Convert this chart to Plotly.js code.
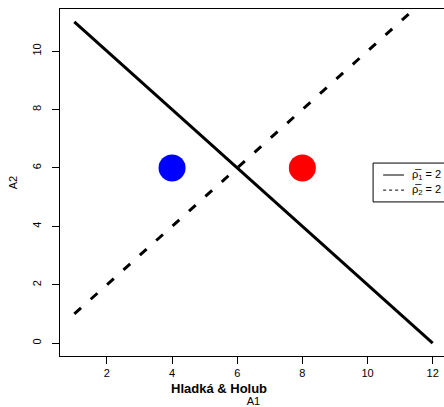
<!DOCTYPE html>
<html>
<head>
<meta charset="utf-8">
<script src="https://cdn.plot.ly/plotly-3.0.1.min.js"></script>
<style>
html,body{margin:0;padding:0;overflow:hidden;background:#fff;}
#chart{width:448px;height:407px;}
</style>
</head>
<body>
<div id="chart"></div>
<script>
// Data
var solidX = [1, 12];
var solidY = [11, 0];
var dashedX = [1, 12];
var dashedY = [1, 12];
var pointX = [4, 8];
var pointY = [6, 6];
var pointColors = ['#0000FF', '#FF0000'];
var xTicks = [2, 4, 6, 8, 10, 12];
var yTicks = [0, 2, 4, 6, 8, 10];
var legendLabels = ['\u03C1\u0305<sub>1</sub> = 2', '\u03C1\u0305<sub>2</sub> = 2'];
var subtitle = 'Hladká & Holub';

var font = 'Liberation Sans, Arial, Helvetica, sans-serif';

var traces = [
  {x: solidX, y: solidY, mode: 'lines', line: {color: '#000', width: 3}, hoverinfo: 'skip', showlegend: false},
  {x: dashedX, y: dashedY, mode: 'lines', line: {color: '#000', width: 3, dash: '9px,13px'}, hoverinfo: 'skip', showlegend: false},
  {x: pointX, y: pointY, mode: 'markers', marker: {color: pointColors, size: 27, line: {width: 0}}, hoverinfo: 'skip', showlegend: false}
];

var layout = {
  width: 448, height: 407,
  margin: {l: 60, r: 1, t: 9, b: 51},
  paper_bgcolor: '#fff', plot_bgcolor: '#fff',
  font: {family: font, size: 11, color: '#000'},
  showlegend: false,
  xaxis: {
    range: [0.56, 12.44], tickvals: xTicks, ticktext: xTicks.map(String),
    showgrid: false, zeroline: false, showline: true, linecolor: '#000', linewidth: 1, mirror: true,
    ticks: 'outside', ticklen: 7, tickcolor: '#000', tickwidth: 1,
    tickfont: {family: font, size: 11},
    title: {text: 'A1', font: {family: font, size: 11}, standoff: 25}
  },
  yaxis: {
    range: [-0.44, 11.44], tickvals: yTicks, ticktext: yTicks.map(String),
    showgrid: false, zeroline: false, showline: true, linecolor: '#000', linewidth: 1, mirror: true,
    ticks: 'outside', ticklen: 7, tickcolor: '#000', tickwidth: 1, tickangle: -90,
    ticklabelstandoff: 7,
    tickfont: {family: font, size: 11},
    title: {text: 'A2', font: {family: font, size: 11}, standoff: 10}
  },
  shapes: [
    {type: 'rect', xref: 'paper', yref: 'paper', x0: 0.809, x1: 1.05, y0: 0.444, y1: 0.556,
     line: {color: '#000', width: 1}, fillcolor: '#fff', layer: 'above'},
    {type: 'line', xref: 'paper', yref: 'paper', x0: 0.835, x1: 0.889, y0: 0.5216, y1: 0.5216,
     line: {color: '#000', width: 1}},
    {type: 'line', xref: 'paper', yref: 'paper', x0: 0.835, x1: 0.889, y0: 0.478, y1: 0.478,
     line: {color: '#000', width: 1, dash: '3px,3px'}}
  ],
  annotations: [
    {xref: 'paper', yref: 'paper', x: 0.905, y: 0.5216, xanchor: 'left', yanchor: 'middle',
     text: legendLabels[0], showarrow: false, font: {family: font, size: 11}},
    {xref: 'paper', yref: 'paper', x: 0.905, y: 0.478, xanchor: 'left', yanchor: 'middle',
     text: legendLabels[1], showarrow: false, font: {family: font, size: 11}},
    {xref: 'paper', yref: 'paper', x: 0.411, y: -0.095, xanchor: 'center', yanchor: 'middle',
     text: '<b>' + subtitle + '</b>', showarrow: false, font: {family: font, size: 13}}
  ]
};

Plotly.newPlot('chart', traces, layout, {staticPlot: true, displayModeBar: false});
</script>
</body>
</html>
